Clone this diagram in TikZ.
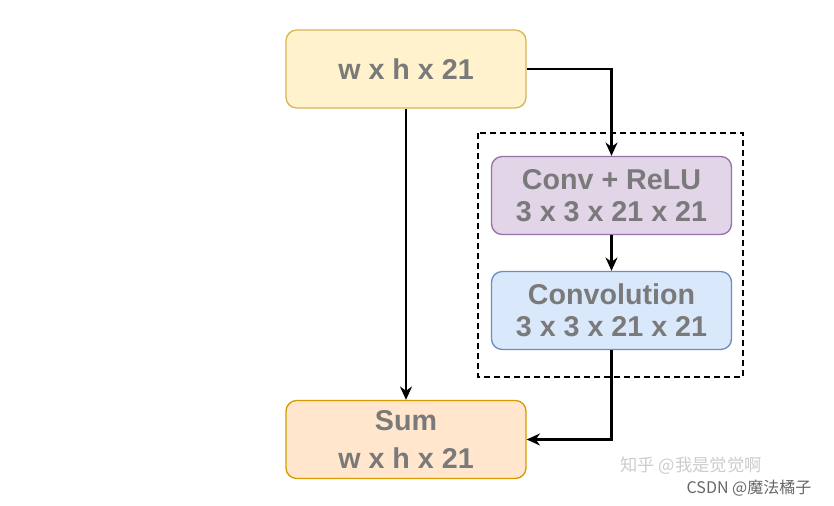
\documentclass[tikz,border=0pt]{standalone}
\usepackage{fontspec}
\setmainfont{Liberation Sans}
\newfontfamily\cjk{Noto Sans CJK SC}
\usepackage{tikz}
\usetikzlibrary{arrows.meta}
\definecolor{txtgray}{HTML}{7A7A7A}
\definecolor{inFill}{HTML}{FFF2CC}
\definecolor{inLine}{HTML}{D6B656}
\definecolor{reluFill}{HTML}{E1D5E7}
\definecolor{reluLine}{HTML}{9673A6}
\definecolor{convFill}{HTML}{DAE8FC}
\definecolor{convLine}{HTML}{6C8EBF}
\definecolor{sumFill}{HTML}{FFE6CC}
\definecolor{sumLine}{HTML}{D79B00}

\begin{document}
\begin{tikzpicture}[x=0.75pt,y=-0.75pt,
    layer/.style={draw, line width=1pt, rounded corners=8pt, minimum width=180pt,
        minimum height=58.5pt, align=center, text=txtgray,
        font=\fontsize{21.5}{24}\selectfont\bfseries},
    link/.style={line width=1.6pt, -{Stealth[length=10pt,width=9pt]}}]
    \useasboundingbox (0,0) rectangle (834,506);
    % Input and output boxes
    \node[layer, fill=inFill, draw=inLine] (input) at (406,69) {w x h x 21};
    \node[layer, fill=sumFill, draw=sumLine, inner sep=0pt] (sum) at (406,439.5) {Sum\\[5pt]w x h x 21};
    % Residual branch
    \draw[line width=1.5pt, dash pattern=on 4.5pt off 3pt] (478,133) rectangle (743,377);
    \node[layer, fill=reluFill, draw=reluLine] (relu) at (611.5,195.5) {Conv + ReLU\\3 x 3 x 21 x 21};
    \node[layer, fill=convFill, draw=convLine] (conv) at (611.5,310.5) {Convolution\\3 x 3 x 21 x 21};
    % Connections
    \draw[link] (input.east) -| (relu.north);
    \draw[link] (relu.south) -- (conv.north);
    \draw[link] (conv.south) |- (sum.east);
    \draw[link] (input.south) -- (sum.north);
    % Watermarks
    \node[text=black!20, font=\cjk\fontsize{13}{15}\selectfont] (zhihu) at (691,466) {知乎 @我是觉觉啊};
    \node[text=black!60, font=\cjk\fontsize{12}{14}\selectfont] (csdn) at (749,488) {CSDN @魔法橘子};
\end{tikzpicture}
\end{document}
